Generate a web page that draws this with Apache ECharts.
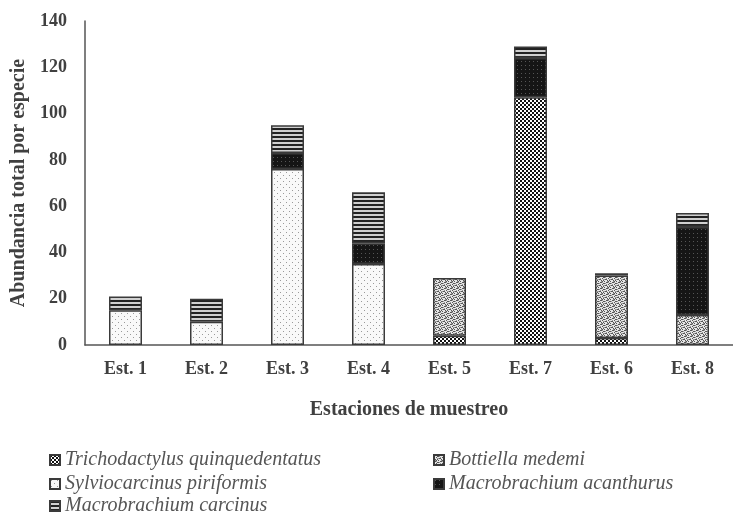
<!DOCTYPE html>
<html><head><meta charset="utf-8">
<script src="https://cdn.jsdelivr.net/npm/echarts@6/dist/echarts.min.js"></script>
<style>html,body{margin:0;padding:0;background:#fff}#c{width:733px;height:514px}</style>
</head><body><div id="c"></div>
<script>
const categories = ['Est. 1','Est. 2','Est. 3','Est. 4','Est. 5','Est. 7','Est. 6','Est. 8'];
const seriesNames = ['Trichodactylus quinquedentatus','Bottiella medemi','Sylviocarcinus piriformis','Macrobrachium acanthurus','Macrobrachium carcinus'];
const trichodactylus = [0, 0, 0, 0, 4, 107, 3, 0];
const bottiella      = [0, 0, 0, 0, 25, 0, 27, 13];
const sylviocarcinus = [15, 10, 76, 35, 0, 0, 0, 0];
const acanthurus     = [0, 0, 7, 9, 0, 17, 0, 38];
const carcinus       = [6, 10, 12, 22, 0, 5, 1, 6];
const yTicks = {min: 0, max: 140, interval: 20};

function makePattern(w, h, draw) {
  const c = document.createElement('canvas');
  c.width = w; c.height = h;
  const g = c.getContext('2d');
  draw(g);
  return {image: c, repeat: 'repeat'};
}
const patTricho = makePattern(4, 4, g => {
  g.fillStyle = '#fff'; g.fillRect(0,0,4,4);
  g.fillStyle = '#111'; g.fillRect(0,0,2,2); g.fillRect(2,2,2,2);
});
const patBott = makePattern(6, 6, g => {
  g.fillStyle = '#e6e6e6'; g.fillRect(0,0,6,6);
  g.fillStyle = '#555';
  [[0,0],[1,0],[3,1],[4,1],[2,2],[5,3],[0,3],[1,4],[3,4],[4,5],[2,5]].forEach(p => g.fillRect(p[0],p[1],1,1));
  g.fillStyle = '#999';
  [[2,0],[5,1],[0,2],[4,3],[1,5],[3,3]].forEach(p => g.fillRect(p[0],p[1],1,1));
});
const patSylvio = makePattern(6, 6, g => {
  g.fillStyle = '#f9f9f9'; g.fillRect(0,0,6,6);
  g.fillStyle = '#9a9a9a'; g.fillRect(1,1,1,1); g.fillRect(4,4,1,1);
});
const patAcan = makePattern(4, 4, g => {
  g.fillStyle = '#151515'; g.fillRect(0,0,4,4);
  g.fillStyle = '#555'; g.fillRect(1,1,1,1);
});
const patCarc = makePattern(2, 4, g => {
  g.fillStyle = '#222'; g.fillRect(0,0,2,2);
  g.fillStyle = '#d0d0d0'; g.fillRect(0,2,2,2);
});
const patterns = [patTricho, patBott, patSylvio, patAcan, patCarc];
const values = [trichodactylus, bottiella, sylviocarcinus, acanthurus, carcinus];

const font = 'Liberation Serif';
const legendPos = [[44, 445], [428, 445], [44, 469], [428, 469], [44, 491]];
const chart = echarts.init(document.getElementById('c'), null, {renderer: 'canvas'});
chart.setOption({
  animation: false,
  backgroundColor: '#fff',
  grid: {left: 85, right: -8, top: 21, bottom: 169, containLabel: false},
  legend: seriesNames.map((n, i) => ({
    data: [n], left: legendPos[i][0], top: legendPos[i][1],
    itemWidth: 10, itemHeight: 10, icon: 'rect',
    textStyle: {fontFamily: font, fontStyle: 'italic', fontSize: 20, color: '#555', padding: [0,0,0,0]}
  })),
  xAxis: {
    type: 'category', data: categories,
    axisLine: {lineStyle: {color: '#555', width: 1.5}},
    axisTick: {show: false},
    axisLabel: {fontFamily: font, fontWeight: 'bold', fontSize: 18, color: '#404040', margin: 15},
    name: 'Estaciones de muestreo', nameLocation: 'middle', nameGap: 55,
    nameTextStyle: {fontFamily: font, fontWeight: 'bold', fontSize: 20, color: '#404040'}
  },
  yAxis: {
    type: 'value', min: yTicks.min, max: yTicks.max, interval: yTicks.interval,
    axisLine: {show: true, lineStyle: {color: '#555', width: 1.5}},
    axisTick: {show: false},
    splitLine: {show: false},
    axisLabel: {fontFamily: font, fontWeight: 'bold', fontSize: 18, color: '#404040', margin: 18},
    name: 'Abundancia total por especie', nameLocation: 'middle', nameGap: 55,
    nameTextStyle: {fontFamily: font, fontWeight: 'bold', fontSize: 20, color: '#404040'}
  },
  series: seriesNames.map((n, i) => ({
    name: n, type: 'bar', stack: 'total', barWidth: 33,
    data: values[i].map(v => v === 0 ? '-' : v),
    itemStyle: {color: patterns[i], borderColor: '#3a3a3a', borderWidth: 1.5}
  }))
});
</script></body></html>
